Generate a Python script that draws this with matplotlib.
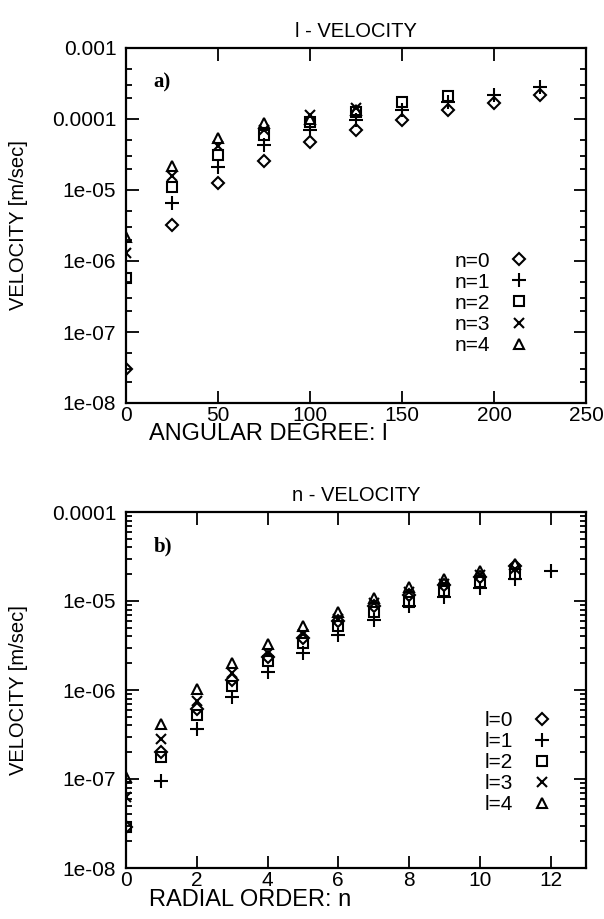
import matplotlib
matplotlib.use("Agg")
import matplotlib.pyplot as plt
from matplotlib.ticker import LogLocator, FixedLocator, NullFormatter

plt.rcParams['font.family'] = ['Liberation Sans', 'DejaVu Sans']

# ---- panel a) : velocity vs angular degree l, for radial orders n ----
l_n0 = [0, 25, 50, 75, 100, 125, 150, 175, 200, 225]
v_n0 = [3.0e-8, 3.2e-6, 1.26e-5, 2.6e-5, 4.8e-5, 7.0e-5, 9.8e-5, 1.34e-4, 1.7e-4, 2.2e-4]
l_n1 = [25, 50, 75, 100, 125, 150, 175, 200, 225]
v_n1 = [6.6e-6, 2.1e-5, 4.3e-5, 7.0e-5, 9.7e-5, 1.34e-4, 1.74e-4, 2.2e-4, 2.8e-4]
l_n2 = [0, 25, 50, 75, 100, 125, 150, 175]
v_n2 = [5.7e-7, 1.1e-5, 3.1e-5, 5.9e-5, 9.1e-5, 1.26e-4, 1.74e-4, 2.1e-4]
l_n3 = [0, 25, 50, 75, 100, 125]
v_n3 = [1.3e-6, 1.6e-5, 4.2e-5, 7.0e-5, 1.15e-4, 1.45e-4]
l_n4 = [0, 25, 50, 75, 100, 125]
v_n4 = [2.2e-6, 2.2e-5, 5.4e-5, 8.7e-5, 1.0e-4, 1.35e-4]

# ---- panel b) : velocity vs radial order n, for degrees l ----
n_l0 = [0, 1, 2, 3, 4, 5, 6, 7, 8, 9, 10, 11]
v_l0 = [2.9e-8, 2.0e-7, 6.1e-7, 1.3e-6, 2.35e-6, 3.8e-6, 5.9e-6, 8.7e-6, 1.17e-5, 1.5e-5, 1.87e-5, 2.5e-5]
n_l1 = [1, 2, 3, 4, 5, 6, 7, 8, 9, 10, 11, 12]
v_l1 = [9.5e-8, 3.6e-7, 8.4e-7, 1.6e-6, 2.6e-6, 4.2e-6, 6.1e-6, 8.7e-6, 1.12e-5, 1.4e-5, 1.75e-5, 2.2e-5]
n_l2 = [0, 1, 2, 3, 4, 5, 6, 7, 8, 9, 10, 11]
v_l2 = [2.9e-8, 1.77e-7, 5.3e-7, 1.12e-6, 2.1e-6, 3.4e-6, 5.2e-6, 7.6e-6, 9.8e-6, 1.3e-5, 1.65e-5, 2.0e-5]
n_l3 = [0, 1, 2, 3, 4, 5, 6, 7, 8, 9, 10, 11]
v_l3 = [6.3e-8, 2.8e-7, 7.5e-7, 1.54e-6, 2.6e-6, 4.3e-6, 6.3e-6, 9.4e-6, 1.25e-5, 1.55e-5, 1.95e-5, 2.3e-5]
n_l4 = [0, 1, 2, 3, 4, 5, 6, 7, 8, 9, 10, 11]
v_l4 = [1.05e-7, 4.1e-7, 1.02e-6, 2.0e-6, 3.3e-6, 5.3e-6, 7.6e-6, 1.07e-5, 1.42e-5, 1.78e-5, 2.2e-5, 2.6e-5]

top_labels = ['n=0', 'n=1', 'n=2', 'n=3', 'n=4']
bot_labels = ['l=0', 'l=1', 'l=2', 'l=3', 'l=4']
top_xticks = [0, 50, 100, 150, 200, 250]
bot_xticks = [0, 2, 4, 6, 8, 10, 12]
top_yticks = [1e-8, 1e-7, 1e-6, 1e-5, 1e-4, 1e-3]
top_yticklabels = ['1e-08', '1e-07', '1e-06', '1e-05', '0.0001', '0.001']
bot_yticks = [1e-8, 1e-7, 1e-6, 1e-5, 1e-4]
bot_yticklabels = ['1e-08', '1e-07', '1e-06', '1e-05', '0.0001']

markers = [dict(marker='D', ms=6.0), dict(marker='+', ms=9.5),
           dict(marker='s', ms=7.0), dict(marker='x', ms=7.5),
           dict(marker='^', ms=7.5)]

W, H = 604, 919
fig = plt.figure(figsize=(W / 100, H / 100), dpi=100)
ax1 = fig.add_axes([126 / W, 1 - 403 / H, 460 / W, 355 / H])
ax2 = fig.add_axes([126 / W, 1 - 868 / H, 460 / W, 356 / H])

FS = 15


def style(ax, xticks, yticks, ylabels, xlim, ylim, subs):
    ax.set_yscale('log')
    ax.set_xlim(*xlim)
    ax.set_ylim(*ylim)
    ax.xaxis.set_major_locator(FixedLocator(xticks))
    ax.yaxis.set_major_locator(FixedLocator(yticks))
    ax.set_yticklabels(ylabels)
    ax.yaxis.set_minor_locator(LogLocator(base=10, subs=subs))
    ax.yaxis.set_minor_formatter(NullFormatter())
    ax.tick_params(which='both', direction='in', top=True, right=True,
                   labelsize=FS, width=1.3, colors='black')
    ax.tick_params(which='major', length=9)
    ax.tick_params(axis='y', which='major', pad=7)
    ax.tick_params(axis='x', which='major', pad=2)
    ax.tick_params(which='minor', length=4.5)
    for s in ax.spines.values():
        s.set_linewidth(1.6)


def draw(ax, xs, ys, labels):
    for x, y, m, lab in zip(xs, ys, markers, labels):
        ax.plot(x, y, linestyle='none', color='black', mfc='none',
                mew=1.5, label=lab, **m)


draw(ax1, [l_n0, l_n1, l_n2, l_n3, l_n4], [v_n0, v_n1, v_n2, v_n3, v_n4], top_labels)
draw(ax2, [n_l0, n_l1, n_l2, n_l3, n_l4], [v_l0, v_l1, v_l2, v_l3, v_l4], bot_labels)

style(ax1, top_xticks, top_yticks, top_yticklabels, (0, 250), (1e-8, 1e-3), (2.0, 3.0, 5.0))
style(ax2, bot_xticks, bot_yticks, bot_yticklabels, (0, 13), (1e-8, 1e-4),
      (2.0, 3.0, 4.0, 5.0, 6.0, 7.0, 8.0, 9.0))

ax1.set_title('l - VELOCITY', fontsize=14.5, pad=8)
ax2.set_title('n - VELOCITY', fontsize=14.5, pad=8)
for ax, txt in [(ax1, 'ANGULAR DEGREE: l'), (ax2, 'RADIAL ORDER: n')]:
    ax.set_xlabel(txt, fontsize=17)
    h = ax.get_position().height * H
    ax.xaxis.set_label_coords(0.05, -20.5 / h)
    ax.xaxis.label.set_ha('left')
    ax.xaxis.label.set_va('top')
    ax.set_ylabel('VELOCITY [m/sec]', fontsize=14.5, labelpad=17)

ax1.text(0.06, 0.93, 'a)', transform=ax1.transAxes, fontsize=15,
         family='Liberation Serif', fontweight='bold', va='top')
ax2.text(0.06, 0.93, 'b)', transform=ax2.transAxes, fontsize=15,
         family='Liberation Serif', fontweight='bold', va='top')

for ax, anchor in [(ax1, (0.895, 0.45)), (ax2, (0.945, 0.465))]:
    leg = ax.legend(loc='upper right', bbox_to_anchor=anchor, frameon=False,
                    markerfirst=False, fontsize=FS, handlelength=1.0,
                    handletextpad=0.9, labelspacing=0.1, borderaxespad=0)
    for t in leg.get_texts():
        t.set_ha('right')

fig.savefig('out.png', dpi=100)
